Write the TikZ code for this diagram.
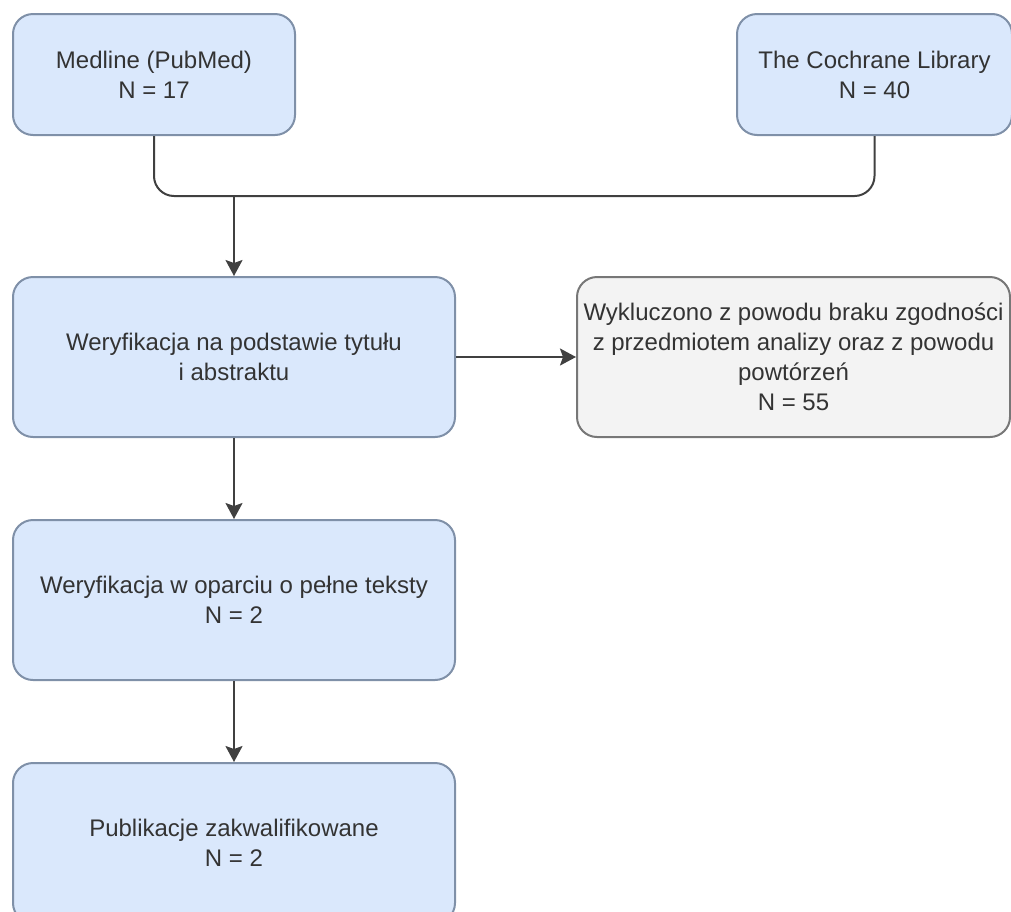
\documentclass[tikz,border=0pt]{standalone}
\usepackage{fontspec}
\setmainfont{Liberation Sans}
\usetikzlibrary{positioning,arrows.meta}
\definecolor{boxblue}{HTML}{DAE8FC}
\definecolor{boxblueline}{HTML}{7F90A8}
\definecolor{boxgrey}{HTML}{F3F3F3}
\definecolor{boxgreyline}{HTML}{777777}
\definecolor{linkgrey}{HTML}{404040}
\definecolor{textgrey}{HTML}{333333}

\begin{document}
\begin{tikzpicture}[node distance=40.5pt,line width=1pt,
    font=\fontsize{12}{15}\selectfont]
  \tikzset{stagebox/.style={draw=boxblueline,fill=boxblue,rounded corners=10pt,
      text=textgrey,align=center,minimum width=221pt,minimum height=80pt,inner sep=2pt},
    sourcebox/.style={stagebox,minimum width=141pt,minimum height=60.5pt},
    excludebox/.style={stagebox,draw=boxgreyline,fill=boxgrey,minimum width=216.5pt},
    flowline/.style={draw=linkgrey,line width=1pt},
    flowarrow/.style={flowline,-{Stealth[length=8pt,width=8.5pt,inset=1.5pt]}}}
  \useasboundingbox (0,0) rectangle (505.5pt,-455.5pt);

  \node[stagebox]   (titles)  at (117pt,-178.5pt) {Weryfikacja na podstawie tytułu\\i abstraktu};
  \node[excludebox] (excl)    [right=60pt of titles] {Wykluczono z powodu braku zgodności\\z przedmiotem analizy oraz z powodu\\powtórzeń\\N = 55};
  \node[stagebox]   (fulltext) [below=of titles] {Weryfikacja w oparciu o pełne teksty\\N = 2};
  \node[stagebox]   (included) [below=of fulltext] {Publikacje zakwalifikowane\\N = 2};
  \node[sourcebox]  (medline)  [above=70pt of titles.north,xshift=-40pt] {Medline (PubMed)\\N = 17};
  \node[sourcebox,minimum width=137.5pt] (cochrane) [above=70pt of excl.north,xshift=40.5pt] {The Cochrane Library\\N = 40};

  % merge of both databases
  \draw[flowline,rounded corners=10pt] (medline.south) -- ++(0,-30pt) coordinate (merge) -| (cochrane.south);
  \draw[flowarrow] (merge -| titles.north) -- (titles.north);

  \draw[flowarrow] (titles) -- (excl);
  \draw[flowarrow] (titles) -- (fulltext);
  \draw[flowarrow] (fulltext) -- (included);
\end{tikzpicture}
\end{document}
